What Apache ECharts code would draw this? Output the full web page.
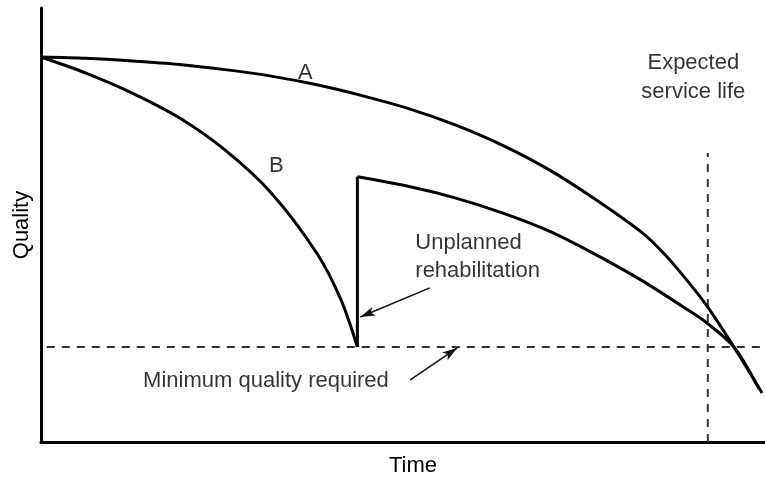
<!DOCTYPE html>
<html>
<head>
<meta charset="utf-8">
<script src="https://cdn.jsdelivr.net/npm/echarts@6/dist/echarts.min.js"></script>
<style>
  html, body { margin: 0; padding: 0; background: #fff; overflow: hidden; }
  #chart { width: 765px; height: 478px; }
</style>
</head>
<body>
<div id="chart"></div>
<script>
// ---- data (time 0..100, quality 0..100) ----
var curveA = [[0, 88.7], [6.2, 88.4], [12.6, 87.8], [19.1, 87.0], [25.4, 85.8], [31.8, 84.3], [38.1, 82.3], [44.6, 79.7], [51.0, 76.7], [57.3, 73.0], [63.7, 68.4], [70.2, 62.7], [76.5, 56.0], [82.9, 48.4], [86.1, 43.3], [89.2, 37.3], [92.0, 31.3], [95.7, 21.9], [99.6, 11.3]];
var curveB1 = [[0, 88.7], [6.2, 85.0], [12.6, 80.4], [19.1, 74.7], [25.4, 67.3], [31.8, 57.4], [38.1, 43.5], [41.4, 32.9], [43.7, 21.9]];
var rehabJump = [[43.7, 21.9], [43.7, 61.1]];
var curveB2 = [[43.7, 61.1], [51.0, 58.8], [57.3, 56.2], [63.7, 52.8], [70.2, 48.6], [76.5, 43.3], [82.9, 37.3], [89.2, 30.6], [92.0, 27.4], [95.7, 21.9], [99.2, 12.2]];
var minQuality = 21.9;
var minQualityFrom = 0.8;
var serviceLife = 92.1;
var serviceLifeTop = 66.6;
var labelsCentered = [
  { text: 'A', at: [36.5, 85.0] },
  { text: 'B', at: [32.5, 63.6] },
  { text: 'Expected\nservice life', at: [90.1, 84.0] }
];
var labelsLeft = [
  { text: 'Unplanned\nrehabilitation', at: [51.7, 42.6] },
  { text: 'Minimum quality required', at: [14.1, 14.0] }
];
var arrows = [
  { from: [53.7, 35.5], to: [44.1, 28.8] },
  { from: [51.0, 14.3], to: [57.5, 21.7] }
];
var xName = 'Time';
var yName = 'Quality';

var FONT = '"Liberation Sans", Arial, Helvetica, sans-serif';
var TXT = '#000';
var FS = 22;

var chart = echarts.init(document.getElementById('chart'), null, { renderer: 'canvas' });

function lineSeries(data, smooth) {
  return {
    type: 'line', data: data, smooth: smooth, showSymbol: false, symbol: 'none',
    lineStyle: { color: '#000', width: 3 }, silent: true, z: 5
  };
}

var option = {
  animation: false,
  backgroundColor: '#fff',
  grid: { left: 41, right: 0, top: 8, bottom: 36, containLabel: false, outerBoundsMode: 'none' },
  xAxis: {
    type: 'value', min: 0, max: 100,
    name: xName, nameLocation: 'middle', nameGap: 13,
    nameTextStyle: { fontFamily: FONT, fontSize: FS, color: TXT, padding: [0, 0, 0, 20] },
    axisLine: { show: true, lineStyle: { color: '#000', width: 3 } },
    axisTick: { show: false }, axisLabel: { show: false }, splitLine: { show: false }
  },
  yAxis: {
    type: 'value', min: 0, max: 100,
    name: yName, nameLocation: 'middle', nameGap: 8, nameRotate: 90,
    nameTextStyle: { fontFamily: FONT, fontSize: FS, color: TXT },
    axisLine: { show: true, lineStyle: { color: '#000', width: 3 } },
    axisTick: { show: false }, axisLabel: { show: false }, splitLine: { show: false }
  },
  series: [
    lineSeries(curveA, 0.3),
    lineSeries(curveB1, 0.3),
    lineSeries(rehabJump, false),
    lineSeries(curveB2, 0.3),
    {
      type: 'line', data: [[minQualityFrom, minQuality], [100, minQuality]], showSymbol: false, symbol: 'none',
      lineStyle: { color: '#333', width: 2, type: [8, 7] }, silent: true, z: 3
    },
    {
      type: 'line', data: [[serviceLife, 0], [serviceLife, serviceLifeTop]], showSymbol: false, symbol: 'none',
      lineStyle: { color: '#333', width: 2, type: [8, 7] }, silent: true, z: 3
    },
    {
      type: 'line', data: [], silent: true,
      markLine: {
        silent: true, animation: false,
        symbol: ['none', 'arrow'], symbolSize: [7, 15],
        label: { show: false },
        lineStyle: { color: '#111', width: 1.5, type: 'solid' },
        data: arrows.map(function (a) {
          return [{ coord: a.from }, { coord: a.to }];
        })
      }
    },
    {
      type: 'scatter', symbolSize: 0, silent: true, z: 10,
      data: labelsCentered.map(function (l) {
        return {
          value: l.at,
          label: {
            show: true, position: 'inside', formatter: l.text, align: 'center', verticalAlign: 'middle',
            fontFamily: FONT, fontSize: FS, lineHeight: 29, color: TXT
          }
        };
      })
    },
    {
      type: 'scatter', symbolSize: 0, silent: true, z: 10,
      data: labelsLeft.map(function (l) {
        return {
          value: l.at,
          label: {
            show: true, position: 'inside', formatter: l.text, align: 'left', verticalAlign: 'middle',
            fontFamily: FONT, fontSize: FS, lineHeight: 28, color: TXT
          }
        };
      })
    }
  ]
};
chart.setOption(option);
</script>
</body>
</html>
